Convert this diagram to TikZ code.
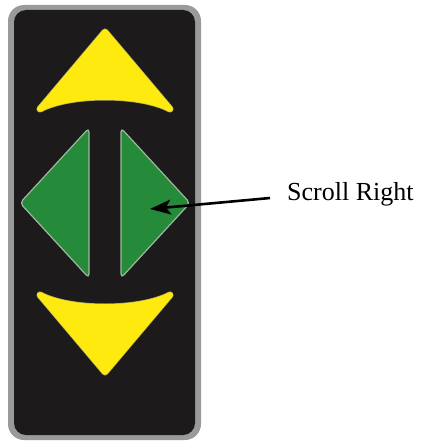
\documentclass[tikz,border=0pt]{standalone}
\usepackage{fontspec}
\setmainfont{Liberation Serif}
\usetikzlibrary{arrows.meta}
\definecolor{panelgray}{HTML}{9A9A9A}
\definecolor{panelblack}{HTML}{1C1A1B}
\definecolor{arrowyellow}{HTML}{FFEA0F}
\definecolor{yellowedge}{HTML}{B9AE5A}
\definecolor{btngreen}{HTML}{258B3B}
\definecolor{greenedge}{HTML}{9DB89D}
\tikzset{
  yellowrim/.style={draw=yellowedge, line width=7pt, line join=round},
  yellowbtn/.style={fill=arrowyellow, draw=arrowyellow, line width=5.6pt, line join=round},
  greenbtn/.style={fill=btngreen, draw=greenedge, line width=1.2pt, rounded corners=4pt, line join=round},
  pointer/.style={line width=2.6pt, -{Stealth[length=21pt,width=15pt,inset=5pt]}},
  lbltext/.style={font=\fontsize{26}{30}\selectfont, inner sep=0pt, anchor=base west}
}
\begin{document}
\begin{tikzpicture}[x=1pt,y=-1pt]
\useasboundingbox (0,0) rectangle (421,441);
% panel
\fill[panelgray, rounded corners=16pt] (8,5) rectangle (201,440);
\fill[panelblack, rounded corners=12pt] (14,10) rectangle (195,435);
% up arrow
\path[yellowrim] (40,109) -- (105,32) -- (170,109) .. controls (140,93) and (70,93) .. (40,109) -- cycle;
\path[yellowbtn] (40,109) -- (105,32) -- (170,109) .. controls (140,93) and (70,93) .. (40,109) -- cycle;
% down arrow
\path[yellowrim] (40,295) .. controls (70,311) and (140,311) .. (170,295) -- (105,372) -- cycle;
\path[yellowbtn] (40,295) .. controls (70,311) and (140,311) .. (170,295) -- (105,372) -- cycle;
% left / right
\path[greenbtn] (89,128) -- (89,278) -- (20,203) -- cycle;
\path[greenbtn] (121,128) -- (190,203) -- (121,278) -- cycle;
% label
\node[lbltext] (lbl) at (287,200) {Scroll Right};
\coordinate (tail) at (270,198);
\coordinate (tip) at (150,209);
\draw[pointer] (tail) -- (tip);
\end{tikzpicture}
\end{document}
